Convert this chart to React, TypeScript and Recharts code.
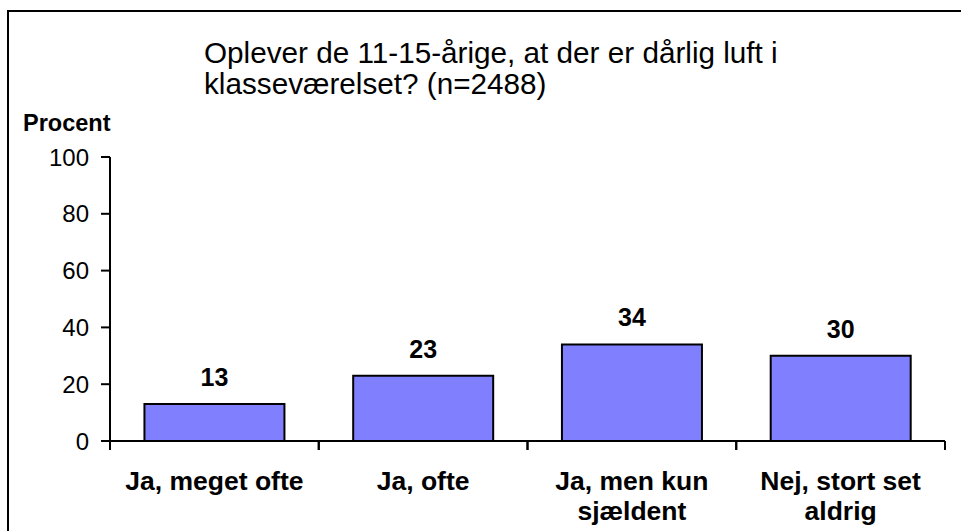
import React from "react";
import { BarChart, Bar, XAxis, YAxis, LabelList } from "recharts";

const categories = ["Ja, meget ofte", "Ja, ofte", "Ja, men kun\nsjældent", "Nej, stort set\naldrig"];
const values = [13, 23, 34, 30];
const yTicks = [0, 20, 40, 60, 80, 100];
const titleLines = ["Oplever de 11-15-årige, at der er dårlig luft i", "klasseværelset? (n=2488)"];
const yLabel = "Procent";

const data = categories.map((c, i) => ({ name: c, value: values[i] }));

const FONT = "'Liberation Sans', Arial, Helvetica, sans-serif";

const CatTick = (props: any) => {
  const { x, y, payload, width } = props;
  const lines = String(payload.value).split("\n");
  const half =
    typeof payload.offset === "number" && payload.offset > 0
      ? payload.offset
      : (width || 0) / categories.length / 2;
  return (
    <g>
      <line x1={x - half} x2={x - half} y1={y} y2={y + 9} stroke="#000" strokeWidth={2} />
      <line x1={x + half} x2={x + half} y1={y} y2={y + 9} stroke="#000" strokeWidth={2} />
      <text x={x} y={y} textAnchor="middle" fontFamily={FONT} fontWeight="bold" fontSize={26.5} fill="#000">
        {lines.map((l, i) => (
          <tspan key={i} x={x} y={y + 49 + i * 30}>
            {l}
          </tspan>
        ))}
      </text>
    </g>
  );
};

export default function App() {
  return (
    <div style={{ position: "absolute", left: 0, top: 0, width: 961, height: 531, overflow: "hidden", background: "#fff" }}>
      <div
        style={{
          position: "absolute",
          left: 7,
          top: 10,
          width: 1000,
          height: 600,
          borderTop: "2px solid #000",
          borderLeft: "2px solid #000",
        }}
      />
      <svg width={961} height={531} style={{ position: "absolute", left: 0, top: 0 }}>
        <text fontFamily={FONT} fontSize={29.7} fill="#000">
          {titleLines.map((l, i) => (
            <tspan key={i} x={204} y={63 + i * 31}>
              {l}
            </tspan>
          ))}
        </text>
        <text x={23} y={131} fontFamily={FONT} fontWeight="bold" fontSize={23.5} fill="#000">
          {yLabel}
        </text>
      </svg>
      <div style={{ position: "absolute", left: 0, top: 0 }}>
        <BarChart
          width={961}
          height={531}
          data={data}
          margin={{ top: 157, right: 16, bottom: 0, left: 0 }}
          barCategoryGap="16.5%"
        >
          <XAxis
            dataKey="name"
            height={90}
            tickLine={false}
            tickSize={0}
            tickMargin={0}
            axisLine={{ stroke: "#000", strokeWidth: 2 }}
            tick={<CatTick />}
            interval={0}
          />
          <YAxis
            width={110}
            domain={[0, 100]}
            ticks={yTicks}
            interval={0}
            tickSize={9}
            tickMargin={12}
            axisLine={{ stroke: "#000", strokeWidth: 2 }}
            tickLine={{ stroke: "#000", strokeWidth: 2 }}
            tick={{ fill: "#000", fontSize: 24, fontFamily: FONT }}
          />
          <Bar dataKey="value" fill="#8080FF" stroke="#000" strokeWidth={2} isAnimationActive={false}>
            <LabelList
              dataKey="value"
              position="top"
              offset={18}
              fill="#000"
              fontSize={25}
              fontWeight="bold"
              fontFamily={FONT}
            />
          </Bar>
        </BarChart>
      </div>
    </div>
  );
}
